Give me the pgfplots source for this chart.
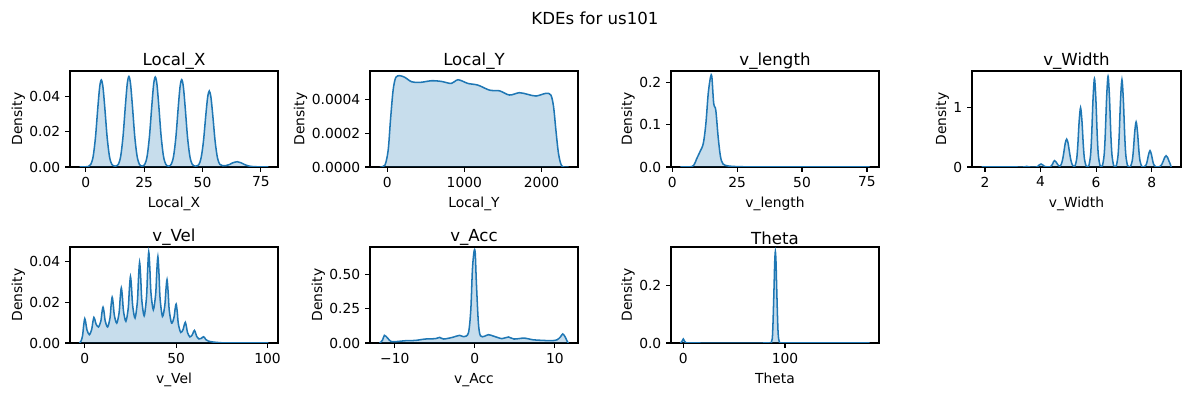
\documentclass[border=0pt]{standalone}
\usepackage{fontspec}
\setmainfont{DejaVu Sans}
\usepackage{pgfplots}
\usepackage{pgfplotstable}
\pgfplotsset{compat=1.18}
\definecolor{tabblue}{HTML}{1F77B4}

\pgfplotstableread{
x y
-2.6 0
-1 0
0 0.0001
1.2 0.0003
2.2 0.0015
3.2 0.0059
4.2 0.0168
5.2 0.0336
6.0 0.0455
6.7 0.0495
7.4 0.0455
8.2 0.0336
9.2 0.0168
10.2 0.0059
11.2 0.0015
12.6 0.0005
14.0 0.0015
15.0 0.0062
16.0 0.0175
17.0 0.0349
17.8 0.0473
18.5 0.0515
19.2 0.0473
20.0 0.0349
21.0 0.0175
22.0 0.0062
23.0 0.0015
24.15 0.0005
25.3 0.0015
26.3 0.0061
27.3 0.0174
28.3 0.0347
29.1 0.0471
29.8 0.0512
30.5 0.0471
31.3 0.0347
32.3 0.0174
33.3 0.0061
34.3 0.0015
35.45 0.0005
36.6 0.0015
37.6 0.0060
38.6 0.0168
39.6 0.0337
40.4 0.0457
41.1 0.0497
41.8 0.0457
42.6 0.0337
43.6 0.0168
44.6 0.0060
45.6 0.0015
47.0 0.0005
48.4 0.0013
49.4 0.0052
50.4 0.0146
51.4 0.0293
52.2 0.0397
52.9 0.0432
53.6 0.0397
54.4 0.0293
55.4 0.0146
56.4 0.0052
57.4 0.0015
58.7 0.0007
60.0 0.0008
61.5 0.0014
63.0 0.0024
64.9 0.0030
66.5 0.0024
68.0 0.0014
70.0 0.0005
72.0 0.0002
75.0 0.00005
78.2 0
}\tabLocalX

\pgfplotstableread{
x y
-96 0
-30 0.00001
13 0.0001
43 0.00028
77 0.000457
112 0.000533
164 0.000543
230 0.000533
316 0.000507
424 0.000503
574 0.000513
702 0.000509
832 0.000497
918 0.000519
1047 0.000497
1176 0.000487
1327 0.000457
1456 0.000453
1584 0.000428
1713 0.000442
1821 0.000432
1928 0.000422
2057 0.000438
2121 0.000428
2156 0.000358
2186 0.00022
2220 0.00008
2263 0.000006
2350 0
}\tabLocalY

\pgfplotstableread{
x y
3.2 0
5.0 0.0001
6.8 0.0004
7.6 0.001
8.3 0.004
8.9 0.011
9.4 0.019
10.7 0.036
12.0 0.056
13.0 0.104
13.9 0.175
14.8 0.214
15.3 0.213
16.0 0.151
16.8 0.135
17.7 0.072
18.6 0.025
19.6 0.007
21.6 0.0024
24.8 0.001
30 0.0003
40 0.0001
76 0
}\tabVlength

\pgfplotstableread{
x y
1.88 0
3.0 0
3.4 0
3.5 0.01
3.6 0
3.85 0
3.9 0.01
3.95 0.035
4.02 0.05
4.08 0.035
4.14 0.01
4.25 0
4.35 0
4.42 0.04
4.47 0.09
4.5 0.107
4.55 0.09
4.62 0.04
4.69 0.01
4.74 0.04
4.79 0.117
4.84 0.254
4.89 0.403
4.94 0.47
4.99 0.403
5.04 0.254
5.09 0.117
5.14 0.04
5.19 0.01
5.24 0.017
5.3 0.135
5.34 0.36
5.39 0.775
5.44 1.0
5.49 0.775
5.54 0.36
5.58 0.135
5.64 0.017
5.69 0
5.74 0.025
5.8 0.2
5.84 0.536
5.89 1.155
5.94 1.49
5.99 1.155
6.04 0.536
6.08 0.2
6.14 0.025
6.18 0
6.23 0.026
6.29 0.207
6.33 0.551
6.38 1.186
6.43 1.53
6.48 1.186
6.53 0.551
6.57 0.207
6.63 0.026
6.68 0
6.73 0.025
6.79 0.198
6.83 0.529
6.88 1.139
6.93 1.47
6.98 1.139
7.03 0.529
7.07 0.198
7.13 0.025
7.18 0
7.24 0.013
7.3 0.103
7.34 0.274
7.39 0.589
7.44 0.76
7.49 0.589
7.54 0.274
7.58 0.103
7.64 0.013
7.69 0
7.74 0.005
7.8 0.037
7.84 0.099
7.89 0.213
7.94 0.275
7.99 0.213
8.04 0.099
8.08 0.037
8.14 0.005
8.2 0
8.27 0.004
8.32 0.016
8.37 0.048
8.42 0.103
8.47 0.163
8.52 0.19
8.57 0.163
8.62 0.103
8.67 0.048
8.70 0
}\tabVwidth

\pgfplotstableread{
x y
-2.9 0
-2.0 0.001
-1.2 0.0036
-0.6 0.0086
0 0.012
0.6 0.0098
1.2 0.0065
2.5 0.0041
3.8 0.0067
4.4 0.0102
5 0.0126
5.6 0.0113
6.2 0.0093
7.5 0.0079
8.8 0.0108
9.4 0.0150
10 0.0177
10.6 0.0150
11.2 0.0108
12.5 0.0079
13.8 0.0123
14.4 0.0185
15 0.0226
15.6 0.0190
16.2 0.0136
17.5 0.0098
18.8 0.0150
19.4 0.0223
20 0.0272
20.6 0.0226
21.2 0.0157
22.5 0.0107
23.8 0.0173
24.4 0.0266
25 0.0328
25.6 0.0271
26.2 0.0185
27.5 0.0123
28.8 0.0206
29.4 0.0321
30 0.0398
30.6 0.0324
31.2 0.0213
32.5 0.0134
33.8 0.0229
34.4 0.0361
35 0.0449
35.6 0.0369
36.2 0.0250
37.5 0.0164
38.8 0.0243
39.4 0.0353
40 0.0426
40.6 0.0343
41.2 0.0220
42.5 0.0131
43.8 0.0186
44.4 0.0262
45 0.0313
45.6 0.0253
46.2 0.0163
47.5 0.0098
48.8 0.0126
49.4 0.0166
50 0.0192
50.6 0.0153
51.2 0.0094
52.5 0.0052
53.8 0.0067
54.4 0.0088
55 0.0102
55.6 0.0082
56.2 0.0052
57.5 0.0030
58.8 0.0040
59.4 0.0053
60 0.0062
60.6 0.0050
61.2 0.0033
62.5 0.0020
63.8 0.0023
64.4 0.0028
65 0.0031
65.6 0.0026
66.2 0.0017
67.5 0.0010
70 0.0005
75 0.0001
80 0.00003
100.5 0
}\tabVvel

\pgfplotstableread{
x y
-11.9 0
-11.55 0.019
-11.3 0.056
-10.9 0.036
-10.5 0.012
-9.9 0.01
-8.6 0.017
-7.4 0.019
-6.2 0.029
-4.9 0.032
-4.4 0.041
-3.9 0.029
-2.8 0.041
-1.9 0.056
-1.4 0.046
-0.8 0.073
-0.5 0.243
-0.3 0.534
-0.1 0.667
0.05 0.66
0.2 0.437
0.45 0.146
0.7 0.053
1.2 0.049
1.7 0.061
2.4 0.049
3.4 0.032
4.2 0.044
4.9 0.029
6.2 0.036
7.2 0.024
8.5 0.019
9.7 0.017
10.3 0.024
10.7 0.044
11.0 0.066
11.3 0.044
11.55 0.012
11.7 0
}\tabVacc

\pgfplotstableread{
x y
-2.8 0
-1.2 0.006
0 0.014
1.2 0.006
2.8 0.0005
10 0
80 0
86.6 0.0035
87.9 0.043
89.2 0.193
89.85 0.28
90.5 0.318
91.15 0.28
91.8 0.193
93.1 0.043
94.4 0.0035
97 0.0003
110 0
183.1 0
}\tabTheta

\pgfplotsset{
  kde/.style={
    scale only axis, width=149.76bp, height=69.12bp, anchor=south west,
    axis line style={line width=0.8bp},
    tick align=outside, xtick pos=bottom, ytick pos=left,
    major tick length=3.5bp,
    every tick/.style={black, line width=0.8bp},
    scaled y ticks=false, scaled x ticks=false,
    ymin=0, ylabel={Density},
    title style={font=\large, yshift=-8.2bp},
    label style={font=\normalsize},
    tick label style={font=\normalsize},
    xlabel style={yshift=-0.5bp},
    ylabel style={yshift=-3.6bp},
  },
  kdeline/.style={color=tabblue, line width=1.1bp, smooth, no markers},
  kdefill/.style={draw=none, fill=tabblue, fill opacity=0.25, smooth, no markers},
}

\begin{document}
\begin{tikzpicture}
\path[use as bounding box] (0,0) rectangle (856.08bp,285.12bp);
\node[font=\large] at (428.4bp,272.2bp) {KDEs for us101};

% Row 1
\begin{axis}[kde, at={(50.4bp,164.88bp)}, title={Local\_X}, xlabel={Local\_X},
  xmin=-6.7, xmax=82.3, ymax=0.0546,
  xtick={0,25,50,75}, xticklabels={0,25,50,75},
  ytick={0,0.02,0.04}, yticklabels={0.00,0.02,0.04}]
\addplot[kdefill] table {\tabLocalX} \closedcycle;
\addplot[kdeline] table {\tabLocalX};
\end{axis}

\begin{axis}[kde, at={(266.4bp,164.88bp)}, title={Local\_Y}, xlabel={Local\_Y},
  xmin=-222.5, xmax=2472.5, ymax=0.000571,
  xtick={0,1000,2000}, xticklabels={0,1000,2000},
  ytick={0,0.0002,0.0004}, yticklabels={0.0000,0.0002,0.0004}]
\addplot[kdefill] table {\tabLocalY} \closedcycle;
\addplot[kdeline] table {\tabLocalY};
\end{axis}

\begin{axis}[kde, at={(483.12bp,164.88bp)}, title={v\_length}, xlabel={v\_length},
  xmin=-0.44, xmax=79.64, ymax=0.2278,
  xtick={0,25,50,75}, xticklabels={0,25,50,75},
  ytick={0,0.1,0.2}, yticklabels={0.0,0.1,0.2}]
\addplot[kdefill] table {\tabVlength} \closedcycle;
\addplot[kdeline] table {\tabVlength};
\end{axis}

\begin{axis}[kde, at={(699.84bp,164.88bp)}, width=150.48bp, title={v\_Width}, xlabel={v\_Width},
  xmin=1.532, xmax=9.056, ymax=1.619,
  xtick={2,4,6,8}, xticklabels={2,4,6,8},
  ytick={0,1}, yticklabels={0,1}]
\addplot[kdefill] table {\tabVwidth} \closedcycle;
\addplot[kdeline] table {\tabVwidth};
\end{axis}

% Row 2
\begin{axis}[kde, at={(50.4bp,38.16bp)}, title={v\_Vel}, xlabel={v\_Vel},
  xmin=-8.07, xmax=105.7, ymax=0.04737,
  xtick={0,50,100}, xticklabels={0,50,100},
  ytick={0,0.02,0.04}, yticklabels={0.00,0.02,0.04}]
\addplot[kdefill] table {\tabVvel} \closedcycle;
\addplot[kdeline] table {\tabVvel};
\end{axis}

\begin{axis}[kde, at={(266.4bp,38.16bp)}, title={v\_Acc}, xlabel={v\_Acc},
  xmin=-13.1, xmax=12.9, ymax=0.7015,
  xtick={-10,0,10}, xticklabels={−10,0,10},
  ytick={0,0.25,0.5}, yticklabels={0.00,0.25,0.50}]
\addplot[kdefill] table {\tabVacc} \closedcycle;
\addplot[kdeline] table {\tabVacc};
\end{axis}

\begin{axis}[kde, at={(483.12bp,38.16bp)}, title={Theta}, xlabel={Theta},
  xmin=-12.1, xmax=192.4, ymax=0.334,
  xtick={0,100}, xticklabels={0,100},
  ytick={0,0.2}, yticklabels={0.0,0.2}]
\addplot[kdefill] table {\tabTheta} \closedcycle;
\addplot[kdeline] table {\tabTheta};
\end{axis}
\end{tikzpicture}
\end{document}
